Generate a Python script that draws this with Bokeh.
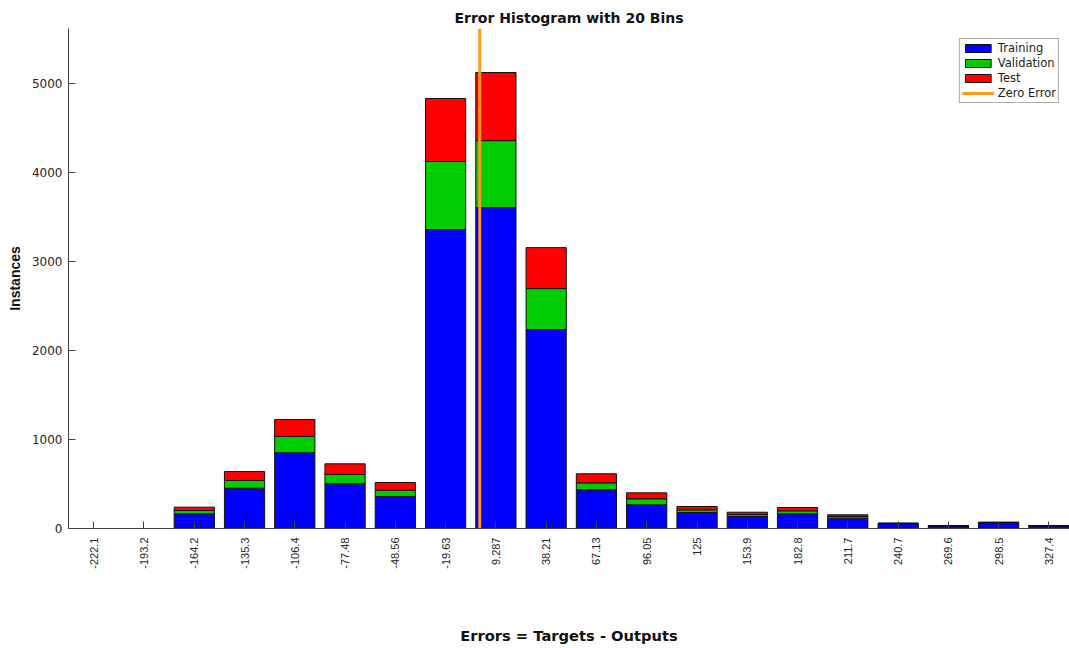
import math
from bokeh.plotting import figure
from bokeh.models import ColumnDataSource, Range1d, FixedTicker, Legend, LegendItem
from bokeh.embed import file_html
from bokeh.resources import INLINE

# ---- data ----
bin_centers = [-222.1, -193.2, -164.2, -135.3, -106.4, -77.48, -48.56, -19.63, 9.287, 38.21,
               67.13, 96.05, 125, 153.9, 182.8, 211.7, 240.7, 269.6, 298.5, 327.4]
bin_labels = ["-222.1", "-193.2", "-164.2", "-135.3", "-106.4", "-77.48", "-48.56", "-19.63", "9.287", "38.21",
              "67.13", "96.05", "125", "153.9", "182.8", "211.7", "240.7", "269.6", "298.5", "327.4"]
training = [0, 0, 165, 453, 851, 502, 360, 3360, 3607, 2236,
            435, 266, 180, 135, 165, 116, 55, 30, 64, 30]
validation = [0, 0, 37, 87, 183, 105, 71, 765, 753, 461,
              78, 68, 30, 22, 34, 20, 3, 2, 4, 2]
test = [0, 0, 38, 100, 191, 120, 86, 708, 765, 460,
        102, 67, 37, 26, 37, 18, 2, 2, 3, 2]
zero_error = 0.0
y_ticks = [0, 1000, 2000, 3000, 4000, 5000]
y_max = 5620

series_names = ["Training", "Validation", "Test"]
series_colors = ["#0000FF", "#00CC00", "#FF0000"]

bw = (bin_centers[-1] - bin_centers[0]) / (len(bin_centers) - 1)

src = ColumnDataSource(dict(x=bin_centers, training=training, validation=validation, test=test))

p = figure(width=1069, height=648, output_backend="svg", toolbar_location=None,
           x_range=Range1d(bin_centers[0] - 0.5 * bw, bin_centers[-1] + 0.41 * bw),
           y_range=Range1d(0, y_max),
           title="Error Histogram with 20 Bins",
           min_border_left=68, min_border_right=0, min_border_top=28, min_border_bottom=120)

bars = p.vbar_stack(["training", "validation", "test"], x="x", width=0.8 * bw, source=src,
                    fill_color=series_colors, line_color="#111111", line_width=1)
zl = p.line(x=[zero_error, zero_error], y=[0, y_max], line_color="#FF9A1A", line_width=3)

items = [LegendItem(label=n, renderers=[r]) for n, r in zip(series_names, bars)]
items.append(LegendItem(label="Zero Error", renderers=[zl]))
legend = Legend(items=items, location="top_right",
                label_text_font="DejaVu Sans", label_text_font_size="11.5px", label_text_color="#222222",
                glyph_width=32, glyph_height=10, label_height=10, spacing=1, padding=2,
                label_standoff=4, margin=10,
                border_line_color="#555555", border_line_width=1, background_fill_alpha=1)
p.add_layout(legend)

# title
p.title.align = "center"
p.title.text_font = "DejaVu Sans"
p.title.text_font_size = "14px"
p.title.text_font_style = "bold"
p.title.text_color = "#111111"
p.title.standoff = 6

p.grid.visible = False
p.outline_line_color = None

# x axis
p.xaxis.ticker = FixedTicker(ticks=bin_centers)
p.xaxis.major_label_overrides = {c: l for c, l in zip(bin_centers, bin_labels)}
p.xaxis.major_label_orientation = math.pi / 2
p.xaxis.axis_label = "Errors = Targets - Outputs"
p.xaxis.axis_label_standoff = 55
p.xaxis.major_label_standoff = 9

# y axis
p.yaxis.ticker = FixedTicker(ticks=y_ticks)
p.yaxis.axis_label = "Instances"
p.yaxis.axis_label_standoff = 6
p.yaxis.major_label_standoff = 6

for ax in (p.xaxis[0], p.yaxis[0]):
    ax.major_tick_in = 7
    ax.major_tick_out = 0
    ax.minor_tick_in = 0
    ax.minor_tick_out = 0
    ax.axis_line_color = "#404040"
    ax.major_tick_line_color = "#404040"
    ax.major_label_text_color = "#262626"
    ax.axis_label_text_font = "DejaVu Sans"
    ax.axis_label_text_font_style = "bold"
    ax.axis_label_text_color = "#111111"

p.xaxis.major_label_text_font = "Liberation Sans"
p.xaxis.major_label_text_font_size = "11px"
p.xaxis.axis_label_text_font_size = "14.7px"
p.yaxis.major_label_text_font = "DejaVu Sans"
p.yaxis.major_label_text_font_size = "12px"
p.yaxis.axis_label_text_font = "Liberation Sans"
p.yaxis.axis_label_text_font_size = "14px"

open("out.html", "w").write(file_html(p, INLINE))
